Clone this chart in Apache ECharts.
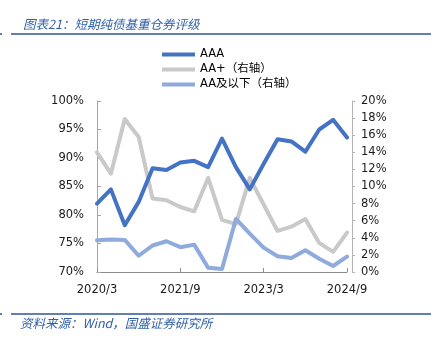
<!DOCTYPE html>
<html>
<head>
<meta charset="utf-8">
<script src="https://cdn.jsdelivr.net/npm/echarts@6/dist/echarts.min.js"></script>
<style>
html,body{margin:0;padding:0;background:#fff;}
#c{width:446px;height:348px;}
</style>
</head>
<body>
<div id="c"></div>
<script>
const categories = ['2020/3','2020/6','2020/9','2020/12','2021/3','2021/6','2021/9','2021/12','2022/3','2022/6','2022/9','2022/12','2023/3','2023/6','2023/9','2023/12','2024/3','2024/6','2024/9'];
const seriesNames = ['AAA','AA+（右轴）','AA及以下（右轴）'];
const aaa = [82.0, 84.5, 78.2, 82.3, 88.2, 87.9, 89.2, 89.5, 88.4, 93.4, 88.4, 84.5, 89.0, 93.3, 92.9, 91.1, 95.0, 96.7, 93.6];
const aaPlus = [14.0, 11.5, 17.9, 15.8, 8.6, 8.4, 7.6, 7.1, 11.0, 6.1, 5.6, 11.0, 7.9, 4.8, 5.3, 6.2, 3.4, 2.35, 4.6];
const aaBelow = [3.7, 3.8, 3.75, 1.9, 3.1, 3.6, 2.9, 3.2, 0.5, 0.35, 6.2, 4.5, 2.85, 1.85, 1.65, 2.55, 1.55, 0.7, 1.8];
const leftTicks = {min: 70, max: 100, interval: 5};
const rightTicks = {min: 0, max: 20, interval: 2};
const titleText = '图表21：短期纯债基重仓券评级';
const sourceText = '资料来源：Wind，国盛证券研究所';

const chart = echarts.init(document.getElementById('c'), null, {renderer: 'canvas'});
const labelFont = 'DejaVu Sans';
const cjk = '"Noto Sans CJK SC", "DejaVu Sans", sans-serif';
const navy = '#2F5597';
chart.setOption({
  animation: false,
  backgroundColor: '#ffffff',
  title: {
    text: titleText,
    left: 18, top: 13,
    textStyle: {fontFamily: cjk, fontSize: 12.5, fontStyle: 'italic', fontWeight: 'normal', color: '#2F5FA8'}
  },
  graphic: [
    {type: 'line', shape: {x1: 11, y1: 34, x2: 431, y2: 34}, style: {stroke: navy, lineWidth: 1.5}},
    {type: 'line', shape: {x1: 0, y1: 34, x2: 2, y2: 34}, style: {stroke: navy, lineWidth: 1.5}},
    {type: 'line', shape: {x1: 11, y1: 314, x2: 431, y2: 314}, style: {stroke: navy, lineWidth: 1.5}},
    {type: 'line', shape: {x1: 0, y1: 314, x2: 2, y2: 314}, style: {stroke: navy, lineWidth: 1.5}},
    {type: 'text', left: 20, top: 317, style: {text: sourceText, font: 'italic 12.5px "Noto Sans CJK SC", sans-serif', fill: '#2F5FA8'}}
  ],
  legend: {
    orient: 'vertical',
    left: 157, top: 42,
    itemWidth: 33, itemHeight: 4, itemGap: 0,
    icon: 'rect',
    data: seriesNames,
    textStyle: {fontFamily: '"DejaVu Sans", "Noto Sans CJK SC", sans-serif', fontSize: 11.5, color: '#000', lineHeight: 15}
  },
  grid: {left: 97, right: 99, top: 101, bottom: 76, containLabel: false},
  xAxis: {
    type: 'category',
    data: categories,
    boundaryGap: false,
    axisLine: {lineStyle: {color: '#8c8c8c', width: 1}},
    axisTick: {inside: true, length: 4, interval: 5, lineStyle: {color: '#8c8c8c'}},
    axisLabel: {interval: 5, margin: 12, fontFamily: labelFont, fontSize: 11.5, color: '#1a1a1a'},
    splitLine: {show: false}
  },
  yAxis: [
    {
      type: 'value', position: 'left',
      min: leftTicks.min, max: leftTicks.max, interval: leftTicks.interval,
      axisLine: {show: true, lineStyle: {color: '#a6a6a6'}},
      axisTick: {show: true, inside: true, length: 4, lineStyle: {color: '#a6a6a6'}},
      axisLabel: {formatter: '{value}%', margin: 13, fontFamily: labelFont, fontSize: 11.5, color: '#1a1a1a'},
      splitLine: {show: false}
    },
    {
      type: 'value', position: 'right', offset: 5,
      min: rightTicks.min, max: rightTicks.max, interval: rightTicks.interval,
      axisLine: {show: true, lineStyle: {color: '#b4b4b4'}},
      axisTick: {show: true, inside: false, length: 3, lineStyle: {color: '#b4b4b4'}},
      axisLabel: {formatter: '{value}%', margin: 9, fontFamily: labelFont, fontSize: 11.5, color: '#1a1a1a'},
      splitLine: {show: false}
    }
  ],
  series: [
    {name: seriesNames[0], type: 'line', yAxisIndex: 0, data: aaa, symbol: 'none', z: 4,
     color: '#4472C4', lineStyle: {width: 4, color: '#4472C4', cap: 'round', join: 'round'}},
    {name: seriesNames[1], type: 'line', yAxisIndex: 1, data: aaPlus, symbol: 'none', z: 2,
     color: '#C9C9C9', lineStyle: {width: 4, color: '#C9C9C9', cap: 'round', join: 'round'}},
    {name: seriesNames[2], type: 'line', yAxisIndex: 1, data: aaBelow, symbol: 'none', z: 3,
     color: '#8FAADC', lineStyle: {width: 4, color: '#8FAADC', cap: 'round', join: 'round'}}
  ]
});
</script>
</body>
</html>
